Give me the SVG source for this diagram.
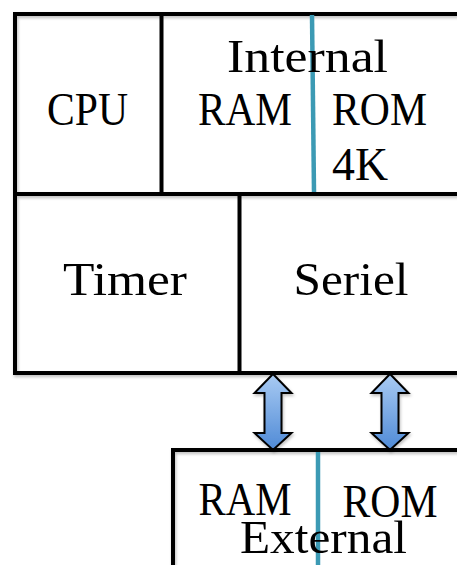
<svg xmlns="http://www.w3.org/2000/svg" width="457" height="565" viewBox="0 0 457 565">
<defs>
<linearGradient id="ag" x1="0" y1="0" x2="0" y2="1">
<stop offset="0" stop-color="#a9cbf3"/>
<stop offset="1" stop-color="#4f8ad6"/>
</linearGradient>
<filter id="sh" x="-10%" y="-10%" width="130%" height="130%">
<feDropShadow dx="1" dy="2" stdDeviation="1.5" flood-color="#000" flood-opacity="0.25"/>
</filter>
</defs>
<style>
.ln{stroke:#000;stroke-width:4;fill:none;stroke-linecap:square}
.bl{stroke:#3c9ab4;stroke-width:4.5;fill:none}
.t{font-family:"Liberation Serif","Times New Roman",serif;font-size:47px;fill:#000}
.ar{fill:url(#ag);stroke:#000;stroke-width:2;stroke-linejoin:miter}
</style>
<rect width="457" height="565" fill="#fff"/>
<g id="internal-block" filter="url(#sh)">
<path class="ln" d="M15,14 H459 M15,14 V373 M15,373 H459 M15,194 H459"/>
</g>
<g id="cpu">
<path class="ln" d="M161.5,14 V194"/>
<text class="t" x="87.5" y="125" text-anchor="middle" textLength="81" lengthAdjust="spacingAndGlyphs">CPU</text>
</g>
<g id="internal-memory">
<path class="bl" d="M312,15 L314,192"/>
<text class="t" x="307.5" y="72" text-anchor="middle" textLength="161" lengthAdjust="spacingAndGlyphs">Internal</text>
<text class="t" x="245" y="125" text-anchor="middle" textLength="94" lengthAdjust="spacingAndGlyphs">RAM</text>
<text class="t" x="332" y="125" textLength="95" lengthAdjust="spacingAndGlyphs">ROM</text>
<text class="t" x="332" y="180" textLength="56" lengthAdjust="spacingAndGlyphs">4K</text>
</g>
<g id="timer">
<path class="ln" d="M239.5,194 V373"/>
<text class="t" x="125" y="295" text-anchor="middle" textLength="124" lengthAdjust="spacingAndGlyphs">Timer</text>
</g>
<g id="seriel">
<text class="t" x="351" y="295" text-anchor="middle" textLength="115" lengthAdjust="spacingAndGlyphs">Seriel</text>
</g>
<g id="connectors" filter="url(#sh)">
<polygon class="ar" points="273,374 291.5,393 281.5,393 281.5,433 291.5,433 273,450 254.5,433 264.5,433 264.5,393 254.5,393"/>
<polygon class="ar" points="390,374 408.5,393 398.5,393 398.5,433 408.5,433 390,450 371.5,433 381.5,433 381.5,393 371.5,393"/>
</g>
<g id="external-memory">
<path class="ln" d="M173,450 H459 M173,450 V567" filter="url(#sh)"/>
<path class="bl" d="M318,452 V565"/>
<text class="t" x="245" y="515" text-anchor="middle" textLength="93" lengthAdjust="spacingAndGlyphs">RAM</text>
<text class="t" x="390" y="517" text-anchor="middle" textLength="95" lengthAdjust="spacingAndGlyphs">ROM</text>
<text class="t" x="323.5" y="553" text-anchor="middle" textLength="167" lengthAdjust="spacingAndGlyphs">External</text>
</g>
</svg>
